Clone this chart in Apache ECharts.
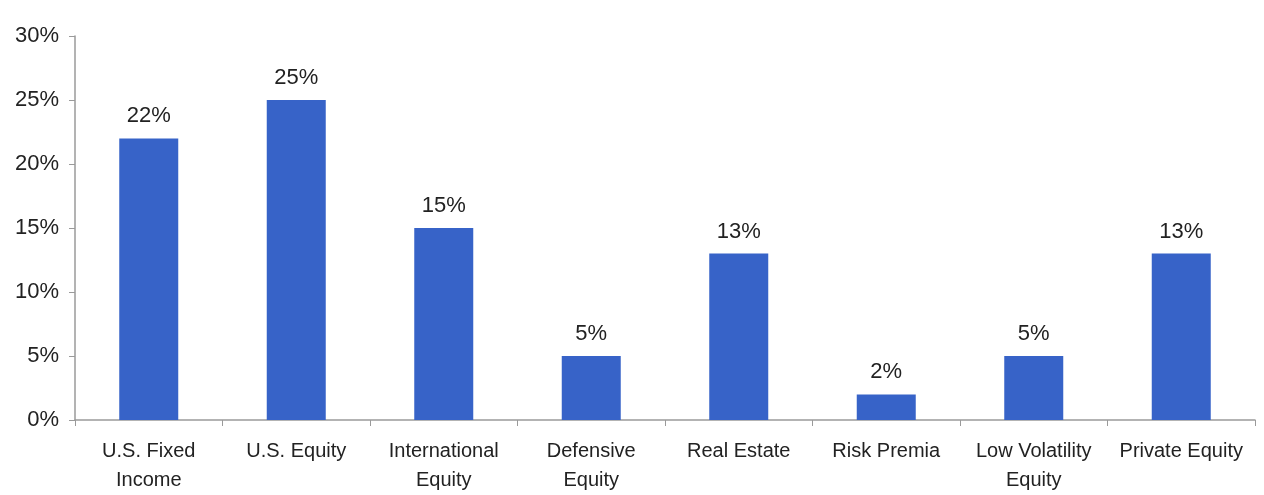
<!DOCTYPE html>
<html>
<head>
<meta charset="utf-8">
<script src="https://cdn.jsdelivr.net/npm/echarts@6/dist/echarts.min.js"></script>
<style>
  html, body { margin: 0; padding: 0; background: #fff; }
  #main { width: 1264px; height: 495px; }
</style>
</head>
<body>
<div id="main"></div>
<script>
// asset classes and their allocations (%)
const categories = ['U.S. Fixed\nIncome', 'U.S. Equity', 'International\nEquity', 'Defensive\nEquity',
  'Real Estate', 'Risk Premia', 'Low Volatility\nEquity', 'Private Equity'];
const allocation = [22, 25, 15, 5, 13, 2, 5, 13];

const chartDom = document.getElementById('main');
const myChart = echarts.init(chartDom);

const font = 'Liberation Sans, Arial, sans-serif';

const option = {
  animation: false,
  grid: { left: 75, right: 9, top: 36, bottom: 73 },
  xAxis: {
    type: 'category',
    data: categories,
    axisLine: { lineStyle: { color: '#9a9a9a', width: 1.5 } },
    axisTick: { show: true, length: 6, lineStyle: { color: '#9a9a9a' } },
    axisLabel: {
      interval: 0,
      color: '#222',
      fontFamily: font,
      fontSize: 20,
      lineHeight: 29,
      margin: 17
    }
  },
  yAxis: {
    type: 'value',
    min: 0,
    max: 30,
    interval: 5,
    splitLine: { show: false },
    axisLine: { show: true, lineStyle: { color: '#9a9a9a', width: 1.5 } },
    axisTick: { show: true, length: 6, lineStyle: { color: '#9a9a9a' } },
    axisLabel: {
      formatter: '{value}%',
      color: '#222',
      fontFamily: font,
      fontSize: 22,
      margin: 16
    }
  },
  series: [
    {
      type: 'bar',
      data: allocation,
      barWidth: 59,
      itemStyle: { color: '#3763c8' },
      label: {
        show: true,
        position: 'top',
        distance: 11,
        formatter: '{c}%',
        color: '#222',
        fontFamily: font,
        fontSize: 22
      }
    }
  ]
};

option && myChart.setOption(option);
</script>
</body>
</html>
